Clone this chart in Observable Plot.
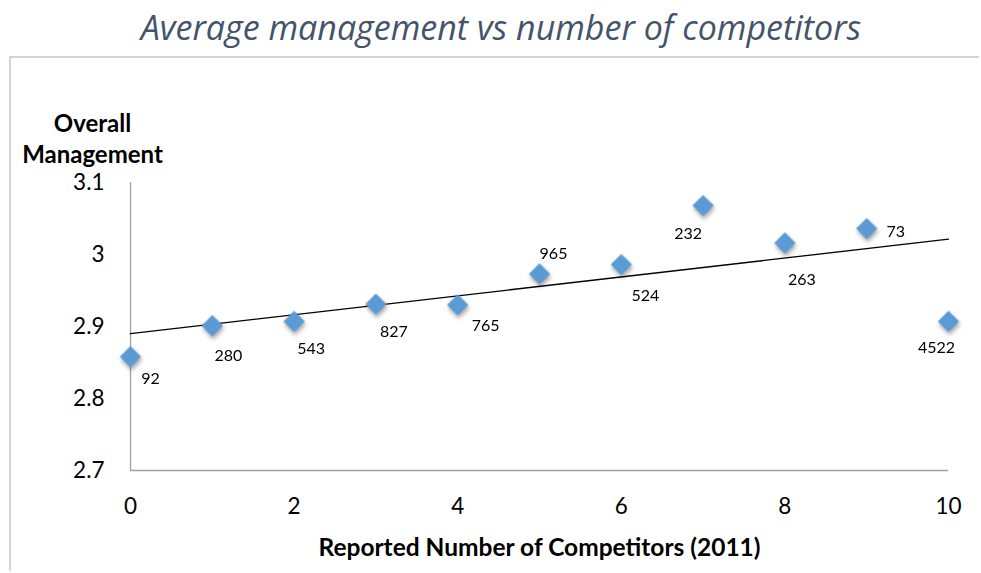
<!DOCTYPE html>
<html>
<head>
<meta charset="utf-8">
<script src="https://cdn.jsdelivr.net/npm/d3@7"></script>
<script src="https://cdn.jsdelivr.net/npm/@observablehq/plot@0.6"></script>
<style>
  html, body { margin: 0; padding: 0; background: #fff; }
  body { width: 981px; height: 573px; overflow: hidden; font-family: Lato, "Open Sans", sans-serif; }
  #title {
    height: 56px; box-sizing: border-box; padding-left: 21px; padding-top: 8px;
    text-align: center; font-family: "Open Sans", sans-serif; font-style: italic; font-weight: 400;
    font-size: 34px; color: #44546a; line-height: 38px; white-space: nowrap;
  }
  #frame {
    margin-left: 9px; border-top: 2px solid #d4d4d4; border-left: 2px solid #d4d4d4;
    width: 970px; height: 515px; box-sizing: border-box;
  }
  #frame svg { display: block; }
</style>
</head>
<body>
<div id="title">Average management vs number of competitors</div>
<div id="frame"></div>
<script>
// ---- data ----
const competitors = [0, 1, 2, 3, 4, 5, 6, 7, 8, 9, 10];
const avgManagement = [2.858, 2.901, 2.907, 2.931, 2.930, 2.973, 2.986, 3.068, 3.016, 3.036, 2.907];
const firmCounts = [92, 280, 543, 827, 765, 965, 524, 232, 263, 73, 4522];
const xTicks = [0, 2, 4, 6, 8, 10];
const yTicks = [2.7, 2.8, 2.9, 3, 3.1];
const xTitle = "Reported Number of Competitors (2011)";
const yTitle = "Overall\nManagement";

// ---- label placement (pixel offsets from each marker) ----
const labelDx = [20, 16, 17, 18, 28, 14, 24, -15, 17, 29, -12];
const labelDy = [22, 30, 27, 28, 21, -20, 31, 28, 37, 3, 26];

const rows = competitors.map((c, i) => ({x: c, y: avgManagement[i], n: firmCounts[i], i}));

const labelMarks = rows.map(r =>
  Plot.text([r], {x: "x", y: "y", text: d => String(d.n), dx: labelDx[r.i], dy: labelDy[r.i],
    fontSize: 16, fill: "#000", textAnchor: "middle", lineAnchor: "middle"})
);

const chart = Plot.plot({
  width: 966,
  height: 513,
  marginLeft: 119,
  marginRight: 29,
  marginTop: 124,
  marginBottom: 101,
  style: {fontFamily: "Lato, 'Open Sans', sans-serif", fontSize: "22.5px", color: "#000", background: "transparent"},
  x: {domain: [0, 10], ticks: xTicks, tickSize: 0, tickPadding: 28, tickFormat: d => String(d), label: null},
  y: {domain: [2.7, 3.1], ticks: yTicks, tickSize: 0, tickPadding: 26, tickFormat: d => String(d), label: null},
  marks: [
    Plot.ruleY([2.7], {stroke: "#a0a0a0", strokeWidth: 1.3}),
    Plot.ruleX([0], {stroke: "#a0a0a0", strokeWidth: 1.3}),
    Plot.linearRegressionY(rows, {x: "x", y: "y", ci: 0, stroke: "#000", strokeWidth: 1.3}),
    Plot.dot(rows, {x: "x", y: "y", symbol: "diamond2", r: 9.6, fill: "#5b9bd5", stroke: "none"}),
    ...labelMarks,
    Plot.text([xTitle], {frameAnchor: "bottom", text: d => d, dy: 78, fontWeight: "bold", fontSize: 24.5, lineAnchor: "middle"}),
    Plot.text([yTitle], {frameAnchor: "top-left", text: d => d, dx: -38, dy: -45, fontWeight: "bold", fontSize: 24,
      lineAnchor: "middle", textAnchor: "middle", lineHeight: 1.3})
  ]
});

document.getElementById("frame").appendChild(chart);
d3.select(chart).selectAll("g[aria-label=dot]").style("filter", "drop-shadow(1px 3px 2px rgba(0,0,0,0.35))");
d3.select(chart).selectAll("g[aria-label=line]").style("filter", "drop-shadow(0px 3px 2px rgba(0,0,0,0.18))");
</script>
</body>
</html>
